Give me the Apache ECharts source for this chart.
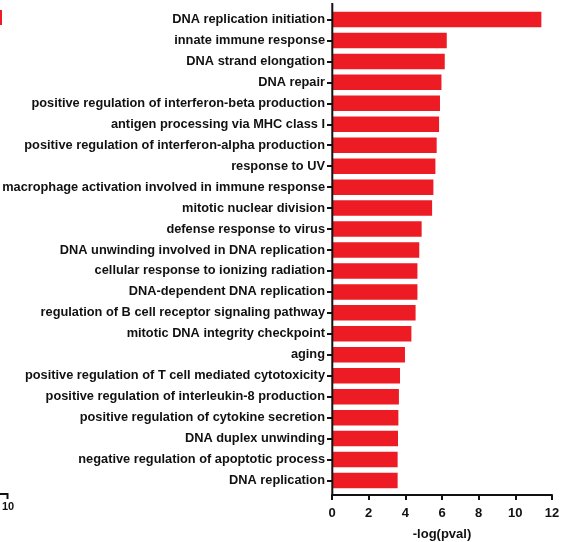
<!DOCTYPE html>
<html>
<head>
<meta charset="utf-8">
<script src="https://cdn.jsdelivr.net/npm/echarts@6/dist/echarts.min.js"></script>
<style>
  html, body { margin: 0; padding: 0; background: #fff; }
  #chart { width: 567px; height: 542px; }
</style>
</head>
<body>
<div id="chart"></div>
<script>
// GO terms, top to bottom
const terms = [
  "DNA replication initiation",
  "innate immune response",
  "DNA strand elongation",
  "DNA repair",
  "positive regulation of interferon-beta production",
  "antigen processing via MHC class I",
  "positive regulation of interferon-alpha production",
  "response to UV",
  "macrophage activation involved in immune response",
  "mitotic nuclear division",
  "defense response to virus",
  "DNA unwinding involved in DNA replication",
  "cellular response to ionizing radiation",
  "DNA-dependent DNA replication",
  "regulation of B cell receptor signaling pathway",
  "mitotic DNA integrity checkpoint",
  "aging",
  "positive regulation of T cell mediated cytotoxicity",
  "positive regulation of interleukin-8 production",
  "positive regulation of cytokine secretion",
  "DNA duplex unwinding",
  "negative regulation of apoptotic process",
  "DNA replication"
];

// -log(pval) per term, same order
const negLogP = [
  11.42, 6.26, 6.15, 5.97, 5.89, 5.84, 5.71, 5.64, 5.53, 5.46,
  4.89, 4.76, 4.66, 4.66, 4.56, 4.33, 3.98, 3.71, 3.65, 3.62,
  3.60, 3.58, 3.58
];

const xTicks = [0, 2, 4, 6, 8, 10, 12];
const xTitle = "-log(pval)";
const sideTick = "10";

const FONT = "'Liberation Sans', Arial, Helvetica, sans-serif";
const INK = "#111";
const RED = "#ed1c24";

const chart = echarts.init(document.getElementById('chart'), null, { renderer: 'canvas' });

chart.setOption({
  animation: false,
  backgroundColor: '#fff',
  grid: { left: 332, right: 15, top: 9, bottom: 51, containLabel: false, outerBoundsMode: 'none' },
  xAxis: {
    type: 'value',
    min: xTicks[0],
    max: xTicks[xTicks.length - 1],
    interval: 2,
    offset: 4,
    name: xTitle,
    nameLocation: 'middle',
    nameGap: 33,
    nameTextStyle: { fontFamily: FONT, fontWeight: 'bold', fontSize: 13, color: INK },
    axisLine: { show: true, lineStyle: { color: INK, width: 2 } },
    axisTick: { show: true, length: 5, lineStyle: { color: INK, width: 2 } },
    axisLabel: { fontFamily: FONT, fontWeight: 'bold', fontSize: 13, color: INK, margin: 12 },
    splitLine: { show: false }
  },
  yAxis: {
    type: 'category',
    inverse: true,
    data: terms,
    axisLine: { show: false },
    axisTick: { show: true, length: 5, alignWithLabel: true, lineStyle: { color: INK, width: 2 } },
    axisLabel: { fontFamily: FONT, fontWeight: 'bold', fontSize: 12.8, color: INK, margin: 7 }
  },
  series: [{
    type: 'bar',
    data: negLogP,
    barWidth: 15.5,
    itemStyle: { color: RED },
    silent: true
  }],
  graphic: [
    // full-height value-axis spine
    { type: 'line', z: 10, shape: { x1: 332.3, y1: 3, x2: 332.3, y2: 495 },
      style: { stroke: INK, lineWidth: 2 } },
    // neighbouring panel edge: legend swatch and axis end
    { type: 'rect', shape: { x: 0, y: 10, width: 2, height: 15 }, style: { fill: RED } },
    { type: 'polyline', shape: { points: [[0, 494], [7.5, 494], [7.5, 499]] },
      style: { stroke: INK, lineWidth: 2, fill: null } },
    { type: 'text', x: 8, y: 507,
      style: { text: sideTick, fontFamily: FONT, fontWeight: 'bold', fontSize: 11, fill: INK,
               textAlign: 'center', textVerticalAlign: 'middle' } }
  ]
});
</script>
</body>
</html>
